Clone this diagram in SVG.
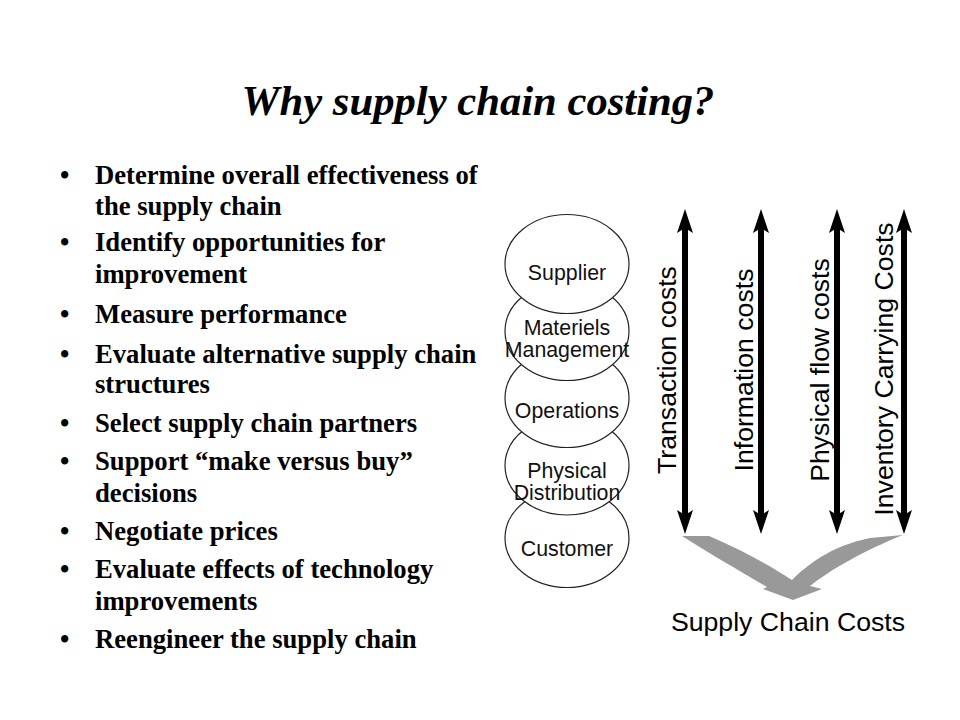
<svg xmlns="http://www.w3.org/2000/svg" width="960" height="720" viewBox="0 0 960 720">
  <style>
    .title { font-family: "Liberation Serif", "Times New Roman", serif; font-weight: bold; font-style: italic; font-size: 42.67px; fill: #000; }
    .bul { font-family: "Liberation Serif", "Times New Roman", serif; font-weight: bold; font-size: 26.67px; fill: #000; }
    .node ellipse { fill: #fff; stroke: #222; stroke-width: 1.2; }
    .node text { font-family: "Liberation Sans", Arial, sans-serif; font-size: 21.33px; fill: #111; text-anchor: middle; }
    .vlab { font-family: "Liberation Sans", Arial, sans-serif; font-size: 26.67px; fill: #000; text-anchor: middle; }
    .shaft { stroke: #000; stroke-width: 6; fill: none; marker-start: url(#head); marker-end: url(#head); }
  </style>
  <defs>
    <marker id="head" markerUnits="userSpaceOnUse" viewBox="0 0 24 16" markerWidth="24" markerHeight="16" refX="6" refY="8" orient="auto-start-reverse">
      <path d="M0,0 L24,8 L0,16 L5,8 Z" fill="#000"/>
    </marker>
  </defs>
  <rect width="960" height="720" fill="#fff"/>

  <text class="title" x="478" y="115" text-anchor="middle">Why supply chain costing?</text>

  <g id="bullets" class="bul">
    <text x="60" y="184">•</text><text x="95" y="184">Determine overall effectiveness of</text>
    <text x="95" y="215">the supply chain</text>
    <text x="60" y="251">•</text><text x="95" y="251">Identify opportunities for</text>
    <text x="95" y="283">improvement</text>
    <text x="60" y="323">•</text><text x="95" y="323">Measure performance</text>
    <text x="60" y="363">•</text><text x="95" y="363">Evaluate alternative supply chain</text>
    <text x="95" y="393">structures</text>
    <text x="60" y="432">•</text><text x="95" y="432">Select supply chain partners</text>
    <text x="60" y="470">•</text><text x="95" y="470">Support “make versus buy”</text>
    <text x="95" y="502">decisions</text>
    <text x="60" y="540">•</text><text x="95" y="540">Negotiate prices</text>
    <text x="60" y="578">•</text><text x="95" y="578">Evaluate effects of technology</text>
    <text x="95" y="610">improvements</text>
    <text x="60" y="648">•</text><text x="95" y="648">Reengineer the supply chain</text>
  </g>

  <g id="customer" class="node">
    <ellipse cx="567" cy="538" rx="62" ry="49.5"/>
    <text x="567" y="556">Customer</text>
  </g>
  <g id="physical-distribution" class="node">
    <ellipse cx="567" cy="465.5" rx="62" ry="49.5"/>
    <text x="567" y="478">Physical</text>
    <text x="567" y="500">Distribution</text>
  </g>
  <g id="operations" class="node">
    <ellipse cx="567" cy="398" rx="62" ry="49.5"/>
    <text x="567" y="418">Operations</text>
  </g>
  <g id="materiels-management" class="node">
    <ellipse cx="567" cy="331" rx="62" ry="49.5"/>
    <text x="567" y="335">Materiels</text>
    <text x="567" y="357">Management</text>
  </g>
  <g id="supplier" class="node">
    <ellipse cx="567" cy="264" rx="62" ry="49.5"/>
    <text x="567" y="280">Supplier</text>
  </g>

  <g id="connectors">
    <line class="shaft" x1="685" y1="227" x2="685" y2="516"/>
    <line class="shaft" x1="761" y1="227" x2="761" y2="516"/>
    <line class="shaft" x1="837" y1="227" x2="837" y2="516"/>
    <line class="shaft" x1="904" y1="227" x2="904" y2="516"/>
    <path id="merge-arrow" fill="#999" d="M682,536 L709,536 C735,547 770,565 792,580 C806,566 830,546 870,538 L903,535 C865,550 830,570 810,586 L822,589 L793,600 L763,589 L767,587 C740,571 705,551 682,536 Z"/>
  </g>

  <g id="labels" class="vlab">
    <text transform="translate(676,370) rotate(-90)">Transaction costs</text>
    <text transform="translate(753,370) rotate(-90)">Information costs</text>
    <text transform="translate(829,370) rotate(-90)">Physical flow costs</text>
    <text transform="translate(893,369) rotate(-90)">Inventory Carrying Costs</text>
    <text x="788" y="631">Supply Chain Costs</text>
  </g>
</svg>
